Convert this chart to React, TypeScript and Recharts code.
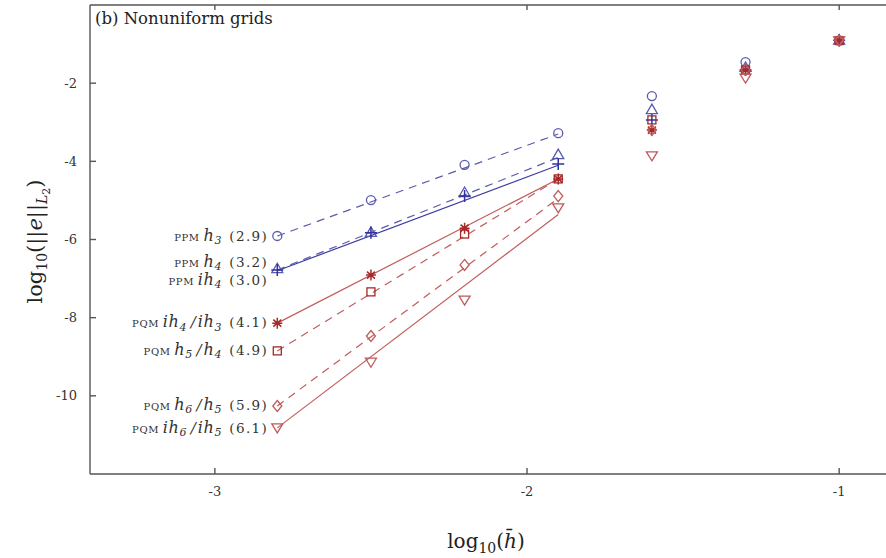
import { ComposedChart, Line, Scatter, XAxis, YAxis } from 'recharts';

// log10 of mean grid spacing
const hLog = [-2.8, -2.5, -2.2, -1.9, -1.6, -1.3, -1.0];
const fitRange = [-2.8, -1.9];
const xTicks = [-3, -2, -1];
const yTicks = [-10, -8, -6, -4, -2];

// log10 of L2 error per scheme
const ppmH3 = [-5.91, -4.99, -4.09, -3.28, -2.33, -1.46, -0.91];
const ppmH4 = [-6.76, -5.83, -4.81, -3.84, -2.69, -1.61, -0.91];
const ppmIh4 = [-6.78, -5.83, -4.89, -4.07, -2.94, -1.66, -0.9];
const pqmIh4Ih3 = [-8.14, -6.91, -5.71, -4.45, -3.2, -1.66, -0.91];
const pqmH5H4 = [-8.85, -7.34, -5.86, -4.45, -2.94, -1.66, -0.91];
const pqmH6H5 = [-10.26, -8.47, -6.65, -4.89, -3.2, -1.66, -0.91];
const pqmIh6Ih5 = [-10.82, -9.14, -7.55, -5.19, -3.86, -1.87, -0.92];

// fitted convergence lines (start, end)
const fitPpmH3 = [-5.91, -3.3];
const fitPpmH4 = [-6.78, -3.9];
const fitPpmIh4 = [-6.8, -4.1];
const fitPqmIh4Ih3 = [-8.14, -4.45];
const fitPqmH5H4 = [-8.85, -4.45];
const fitPqmH6H5 = [-10.26, -4.95];
const fitPqmIh6Ih5 = [-10.82, -5.36];

const schemes = ['PPM', 'PPM', 'PPM', 'PQM', 'PQM', 'PQM', 'PQM'];
const grids = ['h3', 'h4', 'ih4', 'ih4/ih3', 'h5/h4', 'h6/h5', 'ih6/ih5'];
const rates = ['2.9', '3.2', '3.0', '4.1', '4.9', '5.9', '6.1'];

const BLUE = '#5a5aae';
const DKBLUE = '#30309e';
const DKRED = '#a82828';
const LTRED = '#c05a5a';
const REDLINE = '#c25c5c';
const SERIF = '"DejaVu Serif", "Liberation Serif", serif';

type Kind = 'circle' | 'triangle' | 'plus' | 'star' | 'square' | 'diamond' | 'down';

const series: { vals: number[]; fit: number[]; kind: Kind; color: string; line: string; dash?: string; dy: number }[] = [
  { vals: ppmH3, fit: fitPpmH3, kind: 'circle', color: BLUE, line: BLUE, dash: '8 6', dy: 1 },
  { vals: ppmH4, fit: fitPpmH4, kind: 'triangle', color: BLUE, line: BLUE, dash: '8 6', dy: -7 },
  { vals: ppmIh4, fit: fitPpmIh4, kind: 'plus', color: DKBLUE, line: '#3c3ca4', dy: 10 },
  { vals: pqmIh4Ih3, fit: fitPqmIh4Ih3, kind: 'star', color: DKRED, line: REDLINE, dy: 0 },
  { vals: pqmH5H4, fit: fitPqmH5H4, kind: 'square', color: DKRED, line: REDLINE, dash: '8 6', dy: 0 },
  { vals: pqmH6H5, fit: fitPqmH6H5, kind: 'diamond', color: LTRED, line: REDLINE, dash: '8 6', dy: 0 },
  { vals: pqmIh6Ih5, fit: fitPqmIh6Ih5, kind: 'down', color: LTRED, line: REDLINE, dy: 1 },
];

function Marker({ cx, cy, kind, color }: { cx: number; cy: number; kind: Kind; color: string }) {
  const p = { fill: 'none', stroke: color, strokeWidth: 1.3 };
  switch (kind) {
    case 'circle':
      return <circle cx={cx} cy={cy} r={4.5} {...p} />;
    case 'triangle':
      return <path d={`M${cx},${cy - 6} L${cx + 5.5},${cy + 3.5} L${cx - 5.5},${cy + 3.5} Z`} {...p} />;
    case 'down':
      return <path d={`M${cx},${cy + 5} L${cx + 5.5},${cy - 4} L${cx - 5.5},${cy - 4} Z`} {...p} />;
    case 'square':
      return <rect x={cx - 4} y={cy - 4} width={8} height={8} {...p} />;
    case 'diamond':
      return <path d={`M${cx},${cy - 5.5} L${cx + 4.5},${cy} L${cx},${cy + 5.5} L${cx - 4.5},${cy} Z`} {...p} />;
    case 'plus':
      return <path d={`M${cx - 6},${cy} H${cx + 6} M${cx},${cy - 6} V${cy + 6}`} {...p} strokeWidth={1.5} />;
    case 'star':
      return (
        <path
          d={`M${cx - 5},${cy} H${cx + 5} M${cx},${cy - 5.5} V${cy + 5.5} M${cx - 4},${cy - 3.5} L${cx + 4},${cy + 3.5} M${cx - 4},${cy + 3.5} L${cx + 4},${cy - 3.5}`}
          {...p}
          strokeWidth={1.5}
        />
      );
  }
}

function GridText({ grid }: { grid: string }) {
  const parts = grid.split('/');
  const out: JSX.Element[] = [];
  parts.forEach((g, i) => {
    if (i > 0) out.push(<tspan key={`s${i}`} fontSize={15} fontStyle="italic" dx={2}>/</tspan>);
    const m = g.match(/^(i?h)(\d)$/)!;
    out.push(
      <tspan key={`h${i}`} fontSize={16} fontStyle="italic" dx={i > 0 ? 2 : 0} letterSpacing={0.6}>{m[1]}</tspan>,
      <tspan key={`n${i}`} fontSize={11} fontStyle="italic" dy={3.5}>{m[2]}</tspan>,
      <tspan key={`r${i}`} fontSize={11} dy={-3.5}>{'\u2009'}</tspan>,
    );
  });
  return <>{out}</>;
}

function fitLabel(idx: number, dy: number) {
  return (props: any) => {
    if (props.index !== 0) return null;
    return (
      <text x={props.x - 9} y={props.y + dy + 4} textAnchor="end" fontFamily={SERIF} fill="#333">
        <tspan fontSize={10} letterSpacing={0.6}>{schemes[idx]} </tspan>
        <GridText grid={grids[idx]} />
        <tspan fontSize={13.5} letterSpacing={1.4}> ({rates[idx]})</tspan>
      </text>
    );
  };
}

const YTitle = (props: any) => {
  const { viewBox } = props;
  const cx = 42;
  const cy = viewBox.y + viewBox.height / 2 + 2;
  return (
    <text x={cx} y={cy} transform={`rotate(-90 ${cx} ${cy})`} textAnchor="middle" fontFamily={SERIF} fontSize={21} fill="#222">
      log<tspan fontSize={14} dy={5}>10</tspan>
      <tspan dy={-5}>(||</tspan>
      <tspan fontStyle="italic">e</tspan>
      <tspan>||</tspan>
      <tspan fontSize={14} fontStyle="italic" dy={5}>L</tspan>
      <tspan fontSize={11} dy={3}>2</tspan>
      <tspan dy={-8}>)</tspan>
    </text>
  );
};

const XTitle = (props: any) => {
  const { viewBox } = props;
  const cx = viewBox.x + viewBox.width / 2 - 2;
  return (
    <text x={cx} y={548} textAnchor="middle" fontFamily={SERIF} fontSize={20} fill="#222">
      log<tspan fontSize={14} dy={5}>10</tspan>
      <tspan dy={-5}>(</tspan>
      <tspan fontStyle="italic">{'h\u0304'}</tspan>
      <tspan>)</tspan>
    </text>
  );
};

export default function App() {
  const axisLine = { stroke: '#555', strokeWidth: 1.4 };
  const tickStyle = { fontFamily: SERIF, fontSize: 13, fill: '#333' };
  return (
    <div style={{ position: 'absolute', left: 0, top: 0, width: 886, height: 558, background: '#fff' }}>
      <ComposedChart width={886} height={558} margin={{ top: 0, right: 0, bottom: 0, left: 0 }}>
        <XAxis
          dataKey="x"
          type="number"
          domain={[-3.4, -0.85]}
          ticks={xTicks}
          allowDataOverflow
          height={84}
          axisLine={axisLine}
          tickLine={axisLine}
          tickSize={-6}
          tickMargin={19}
          tick={tickStyle}
          label={<XTitle />}
        />
        <XAxis
          xAxisId="top"
          orientation="top"
          dataKey="x"
          type="number"
          domain={[-3.4, -0.85]}
          ticks={xTicks}
          allowDataOverflow
          height={5}
          axisLine={axisLine}
          tickLine={axisLine}
          tickSize={-5}
          tickFormatter={() => ''}
        />
        <YAxis
          dataKey="y"
          type="number"
          domain={[-12, 0]}
          ticks={yTicks}
          allowDataOverflow
          width={90}
          axisLine={axisLine}
          tickLine={axisLine}
          tickSize={-6}
          tickMargin={19}
          tick={tickStyle}
          label={<YTitle />}
        />
        {series.map((s, i) => (
          <Line
            key={`fit${i}`}
            data={fitRange.map((x, j) => ({ x, y: s.fit[j] }))}
            dataKey="y"
            stroke={s.line}
            strokeWidth={1.2}
            strokeDasharray={s.dash}
            dot={false}
            isAnimationActive={false}
            label={fitLabel(i, s.dy)}
          />
        ))}
        {series.map((s, i) => (
          <Scatter
            key={`pts${i}`}
            data={hLog.map((x, j) => ({ x, y: s.vals[j] }))}
            dataKey="y"
            isAnimationActive={false}
            shape={(p: any) => <Marker cx={p.cx} cy={p.cy} kind={s.kind} color={s.color} />}
          />
        ))}
        <text x={95} y={24} fontFamily={SERIF} fontSize={16.5} fill="#222">
          (b) Nonuniform grids
        </text>
      </ComposedChart>
    </div>
  );
}
